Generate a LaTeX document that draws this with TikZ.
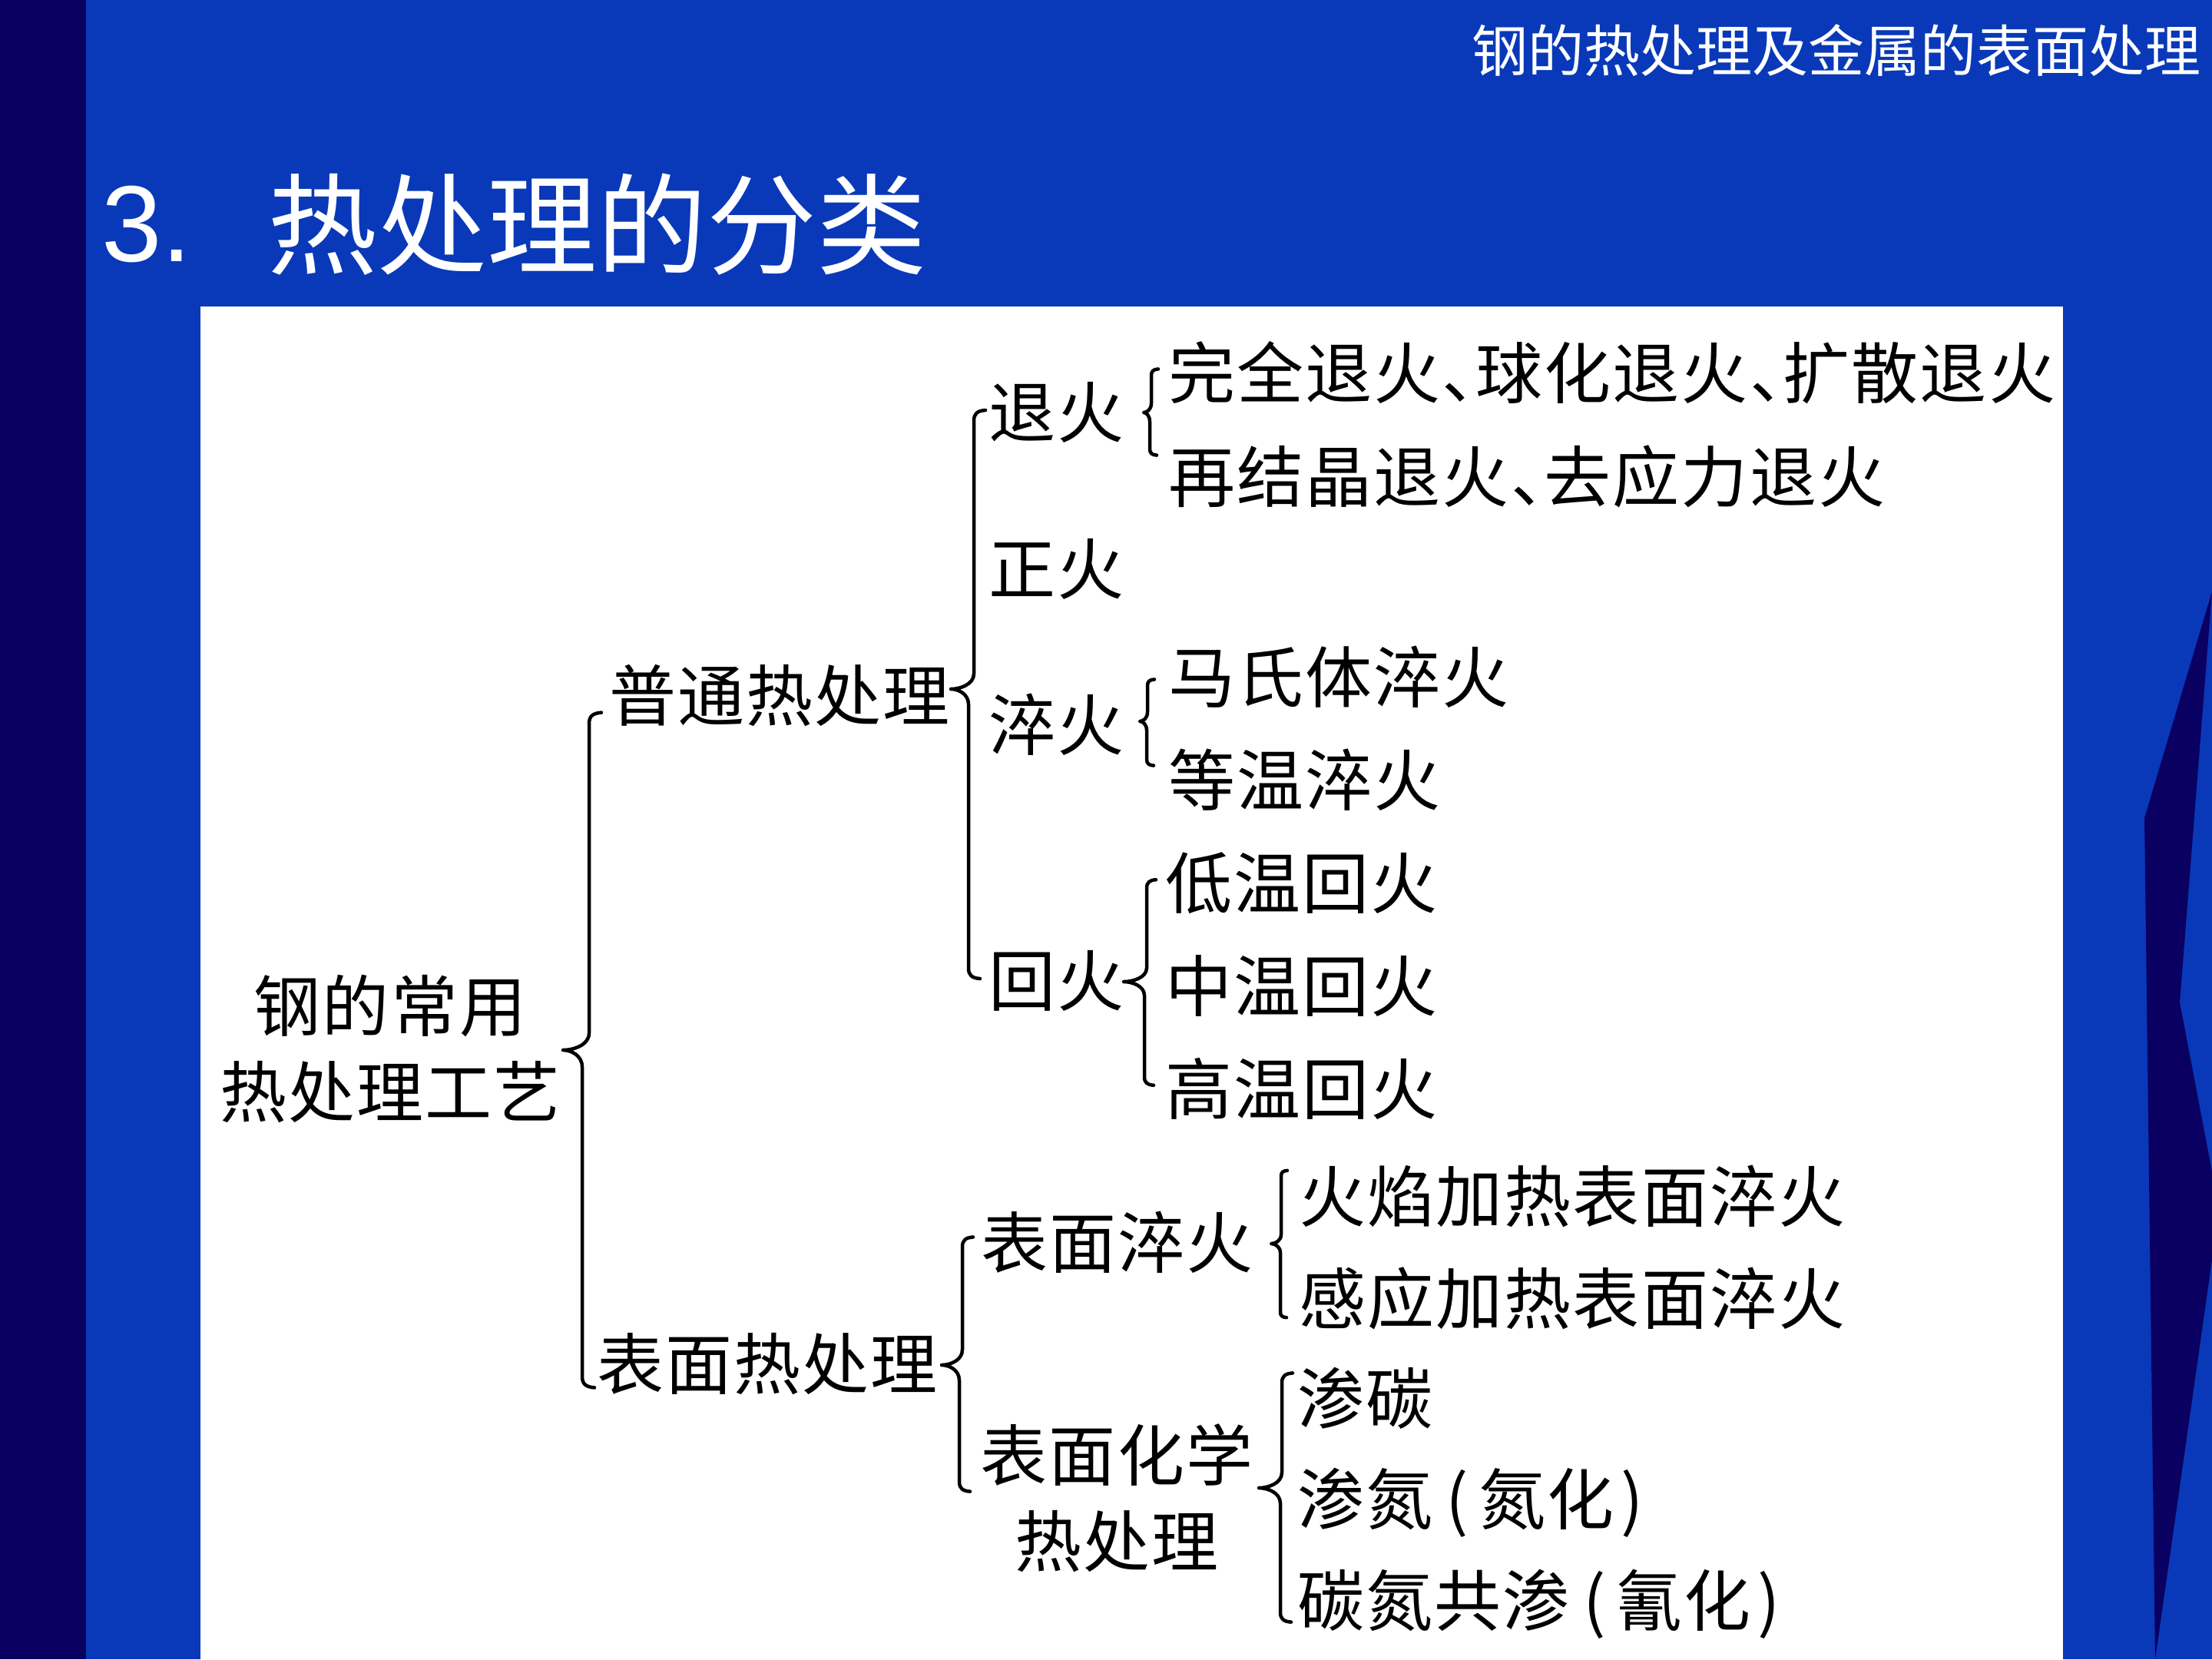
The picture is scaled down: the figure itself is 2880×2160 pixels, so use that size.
\documentclass[tikz,border=0pt]{standalone}
\usepackage{fontspec}
\usetikzlibrary{calc}
\newfontfamily\cjk{Noto Sans CJK SC}
\newfontfamily\cjkloose[LetterSpace=2.5]{Noto Sans CJK SC}
\newfontfamily\latinsans{Liberation Sans}
\definecolor{slideblue}{RGB}{9,57,184}
\definecolor{slidenavy}{RGB}{10,0,98}
% narrow enumeration comma
\newcommand\enumcomma{、\kern-0.5em}
% parenthesis with a little breathing room
\newcommand\lpar{\kern0.2em(\kern0.15em}
\newcommand\rpar{\kern0.1em)}
% curly brace from coordinates <name>t (top), <name>m (tip), <name>b (bottom)
\newcommand\curlybrace[3]{%
  \draw[bracestroke]
    ($(#1t)+(#2,-0.4*#2)$)
      .. controls ($(#1t)+(0.3*#2,-0.35*#2)$) and ($(#1t)+(0,-0.1*#2)$) .. ($(#1t)+(0,0.5*#2)$)
    -- ($(#1t |- #1m)+(0,-#3)$)
      .. controls ($(#1t |- #1m)+(0,-0.3*#3)$) and ($(#1m)!0.4!(#1t |- #1m)$) .. (#1m)
      .. controls ($(#1m)!0.4!(#1b |- #1m)$) and ($(#1b |- #1m)+(0,0.3*#3)$) .. ($(#1b |- #1m)+(0,#3)$)
    -- ($(#1b)+(0,-0.5*#2)$)
      .. controls ($(#1b)+(0,0.1*#2)$) and ($(#1b)+(0.3*#2,0.35*#2)$) .. ($(#1b)+(#2,0.4*#2)$);
}
\begin{document}
\begin{tikzpicture}[x=1pt,y=-1pt,
  item/.style={font=\cjkloose\fontsize{87}{110}\selectfont, anchor=west, inner sep=0pt, text=black},
  twoline/.style={font=\cjkloose\fontsize{87}{112}\selectfont, align=center, inner sep=0pt, text=black},
  bracestroke/.style={draw=black, line width=4.5pt, line cap=round, line join=round}]
\useasboundingbox (0,0) rectangle (2880,2160);

% slide background
\fill[slideblue] (0,0) rectangle (2880,2160);
\fill[slidenavy] (0,0) rectangle (112,2160);
\fill[slidenavy] (2880,770) -- (2792,1065) -- (2806,2160) -- (2880,1640)
  -- (2880,1525) -- (2838,1305) -- cycle;
\fill[white] (261,399) rectangle (2686,2160);

% header and title
\node[anchor=east, inner sep=0pt, text=white, font=\cjk\fontsize{73}{73}\selectfont]
  (header) at (2866,66) {钢的热处理及金属的表面处理};
\node[anchor=base west, inner sep=0pt, text=white, font=\latinsans\fontsize{141}{141}\selectfont]
  (num) at (132,340) {3.};
\node[anchor=west, inner sep=0pt, text=white, font=\cjk\fontsize{143}{143}\selectfont]
  (title) at (348,292) {热处理的分类};

% classification tree
\node[twoline] (root) at (508,1365) {钢的常用\\热处理工艺};

\node[item] (common)  at (793,906)  {普通热处理};
\node[item] (surface) at (777,1776) {表面热处理};

\node[item] (anneal)  at (1287,537)  {退火};
\node[item] (normal)  at (1287,741)  {正火};
\node[item] (quench)  at (1287,943)  {淬火};
\node[item] (temper)  at (1287,1277) {回火};

\node[item] (an1) at (1521,485) {完全退火\enumcomma 球化退火\enumcomma 扩散退火};
\node[item] (an2) at (1521,620) {再结晶退火\enumcomma 去应力退火};

\node[item] (qu1) at (1521,881)  {马氏体淬火};
\node[item] (qu2) at (1521,1015) {等温淬火};

\node[item] (te1) at (1517,1150) {低温回火};
\node[item] (te2) at (1517,1283) {中温回火};
\node[item] (te3) at (1517,1417) {高温回火};

\node[item] (sq) at (1277,1617) {表面淬火};
\node[twoline] (sc) at (1454,1950) {表面化学\\热处理};

\node[item] (sq1) at (1691,1557) {火焰加热表面淬火};
\node[item] (sq2) at (1691,1690) {感应加热表面淬火};

\node[item] (sc1) at (1689,1820) {渗碳};
\node[item] (sc2) at (1689,1956) {渗氮\lpar 氮化\rpar};
\node[item] (sc3) at (1689,2088) {碳氮共渗\lpar 氰化\rpar};

% brace anchor points: top, tip, bottom
\coordinate (At) at (767,934);   \coordinate (Am) at (733,1367);  \coordinate (Ab) at (758,1800);
\coordinate (Bt) at (1268,540);  \coordinate (Bm) at (1238,897);  \coordinate (Bb) at (1261,1268);
\coordinate (Ct) at (1499,484);  \coordinate (Cm) at (1489,537);  \coordinate (Cb) at (1497,589);
\coordinate (Dt) at (1494,888);  \coordinate (Dm) at (1484,939);  \coordinate (Db) at (1493,993);
\coordinate (Et) at (1493,1150); \coordinate (Em) at (1463,1278); \coordinate (Eb) at (1490,1408);
\coordinate (Ft) at (1253,1616); \coordinate (Fm) at (1226,1777); \coordinate (Fb) at (1249,1936);
\coordinate (Gt) at (1668,1527); \coordinate (Gm) at (1655,1619); \coordinate (Gb) at (1667,1712);
\coordinate (Ht) at (1669,1793); \coordinate (Hm) at (1639,1937); \coordinate (Hb) at (1667,2106);

\curlybrace{A}{16}{22}
\curlybrace{B}{15}{20}
\curlybrace{C}{9}{12}
\curlybrace{D}{9}{12}
\curlybrace{E}{12}{18}
\curlybrace{F}{14}{20}
\curlybrace{G}{8}{12}
\curlybrace{H}{14}{20}
\end{tikzpicture}
\end{document}
